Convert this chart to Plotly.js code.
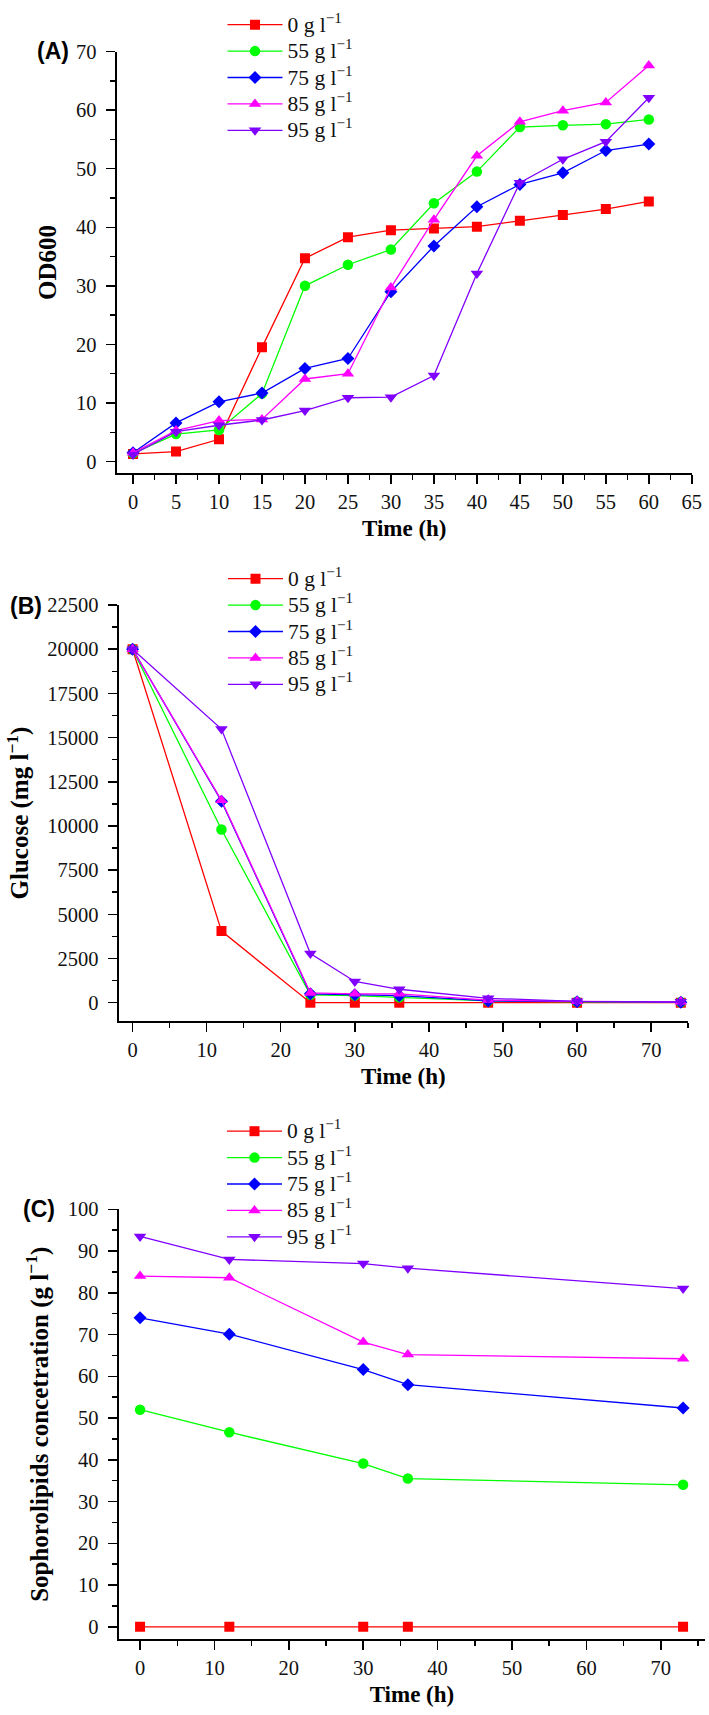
<!DOCTYPE html>
<html>
<head>
<meta charset="utf-8">
<script src="https://cdn.plot.ly/plotly-3.0.1.min.js"></script>
<style>html,body{margin:0;padding:0;background:#fff;}</style>
</head>
<body>
<div id="chart" style="width:709px;height:1715px;"></div>
<script>
// ---------- data ----------
const seriesNames = ['0 g l<sup>−1</sup>', '55 g l<sup>−1</sup>', '75 g l<sup>−1</sup>', '85 g l<sup>−1</sup>', '95 g l<sup>−1</sup>'];

// (A) OD600 vs time
const timeA = [0, 5, 10, 15, 20, 25, 30, 35, 40, 45, 50, 55, 60];
const odA_0  = [1.3, 1.7, 3.8, 19.5, 34.7, 38.3, 39.5, 39.8, 40.1, 41.1, 42.1, 43.1, 44.4];
const odA_55 = [1.4, 4.7, 5.4, 11.6, 30.0, 33.6, 36.2, 44.1, 49.5, 57.1, 57.4, 57.6, 58.4];
const odA_75 = [1.5, 6.6, 10.2, 11.7, 15.9, 17.6, 29.0, 36.8, 43.5, 47.3, 49.3, 53.1, 54.2];
const odA_85 = [1.5, 5.3, 7.0, 7.2, 14.1, 15.0, 29.7, 41.3, 52.2, 58.0, 59.9, 61.3, 67.6];
const odA_95 = [1.2, 5.1, 6.2, 7.1, 8.7, 10.9, 11.0, 14.7, 32.1, 47.6, 51.6, 54.6, 62.1];

// (B) Glucose (mg/l) vs time
const timeB = [0, 12, 24, 30, 36, 48, 60, 74];
const glcB_0  = [20000, 4050, 0, 0, 0, 0, 0, 0];
const glcB_55 = [20000, 9800, 450, 400, 300, 100, 50, 30];
const glcB_75 = [20000, 11400, 500, 450, 400, 100, 50, 30];
const glcB_85 = [20000, 11450, 550, 500, 500, 150, 80, 50];
const glcB_95 = [20000, 15480, 2780, 1200, 760, 250, 80, 50];

// (C) Sophorolipids (g/l) vs time
const timeC = [0, 12, 30, 36, 73];
const slC_0  = [0, 0, 0, 0, 0];
const slC_55 = [52.0, 46.6, 39.1, 35.5, 34.0];
const slC_75 = [74.0, 70.1, 61.6, 58.0, 52.4];
const slC_85 = [84.0, 83.6, 68.2, 65.2, 64.2];
const slC_95 = [93.5, 88.0, 87.0, 85.9, 81.0];

// ---------- styles ----------
const colors  = ['#ff0000', '#00ff00', '#0000ff', '#ff00ff', '#8000ff'];
const symbols = ['square', 'circle', 'diamond', 'triangle-up', 'triangle-down'];
const msizes  = [10, 10.5, 10, 11, 11];
const SERIF = 'Liberation Serif';
const SANS = 'Liberation Sans';

const traces = [];
function addPanel(xs, ysList, xa, ya, leg) {
  ysList.forEach((ys, i) => {
    traces.push({
      type: 'scatter', mode: 'lines+markers',
      x: xs, y: ys, xaxis: xa, yaxis: ya, legend: leg,
      name: '<span style="font-size:21.5px">' + seriesNames[i] + '</span>',
      line: {color: colors[i], width: 1.3},
      marker: {color: colors[i], symbol: symbols[i], size: msizes[i], line: {width: 0}}
    });
  });
}
addPanel(timeA, [odA_0, odA_55, odA_75, odA_85, odA_95], 'x', 'y', 'legend');
addPanel(timeB, [glcB_0, glcB_55, glcB_75, glcB_85, glcB_95], 'x2', 'y2', 'legend2');
addPanel(timeC, [slC_0, slC_55, slC_75, slC_85, slC_95], 'x3', 'y3', 'legend3');

const H = 1715, W = 709;
function px2y(p) { return 1 - p / H; }
function px2x(p) { return p / W; }

function axisBase(extra) {
  return Object.assign({
    showline: true, linecolor: '#000', linewidth: 2,
    showgrid: false, zeroline: false,
    ticks: 'outside', ticklen: 9, tickwidth: 1.5, tickcolor: '#000',
    tickfont: {family: SERIF, size: 20.5, color: '#111'},
    exponentformat: 'none', separatethousands: false, tickformat: 'd',
    automargin: true
  }, extra);
}
function minor(dt) { return {ticks: 'outside', ticklen: 5, tickwidth: 1.5, tickcolor: '#000', dtick: dt}; }
function tfont(sz) { return {family: SERIF, size: sz, color: '#000', weight: 'bold'}; }

function legendBox(xPx, topPx) {
  return {
    x: px2x(xPx), y: px2y(topPx), xanchor: 'left', yanchor: 'top',
    bgcolor: 'rgba(0,0,0,0)', borderwidth: 0,
    font: {family: SERIF, size: 18, color: '#111'},
    itemwidth: 55, tracegroupgap: 0
  };
}

const layout = {
  width: W, height: H,
  font: {family: SERIF, color: '#111'},
  margin: {l: 0, r: 0, t: 0, b: 0, autoexpand: false},
  paper_bgcolor: '#fff', plot_bgcolor: '#fff',
  showlegend: true,
  xaxis: axisBase({domain: [px2x(116.7), px2x(691.8)], anchor: 'y', range: [-1.9, 65], tick0: 0, dtick: 5,
    minor: minor(2.5), title: {text: 'Time (h)', font: tfont(23), standoff: 8}}),
  yaxis: axisBase({domain: [px2y(473.3), px2y(51.5)], anchor: 'x', range: [-2, 70], tick0: 0, dtick: 10,
    ticklabelstandoff: 5,
    minor: minor(5), title: {text: 'OD600', font: tfont(25), standoff: 12}}),
  xaxis2: axisBase({domain: [px2x(118.5), px2x(688.2)], anchor: 'y2', range: [-1.9, 75], tick0: 0, dtick: 10,
    minor: minor(5), title: {text: 'Time (h)', font: tfont(23), standoff: 8}}),
  yaxis2: axisBase({domain: [px2y(1021), px2y(605)], anchor: 'x2', range: [-1035, 22500], tick0: 0, dtick: 2500,
    ticklabelstandoff: 5,
    minor: minor(1250), title: {text: 'Glucose (mg l<sup>−1</sup>)', font: tfont(25), standoff: 11}}),
  xaxis3: axisBase({domain: [px2x(118.5), px2x(705.4)], anchor: 'y3', range: [-2.9, 76], tick0: 0, dtick: 10,
    minor: minor(5), title: {text: 'Time (h)', font: tfont(23), standoff: 8}}),
  yaxis3: axisBase({domain: [px2y(1639.3), px2y(1209.3)], anchor: 'x3', range: [-3, 100], tick0: 0, dtick: 10,
    ticklabelstandoff: 5,
    minor: minor(5), title: {text: 'Sophorolipids concetration (g l<sup>−1</sup>)', font: tfont(25), standoff: 12}}),
  legend: legendBox(222.5, 6.5),
  legend2: legendBox(223, 560.5),
  legend3: legendBox(222, 1113),
  annotations: [
    {text: '(A)', x: px2x(52.5), y: px2y(51.5), xref: 'paper', yref: 'paper', showarrow: false,
     xanchor: 'center', yanchor: 'middle', font: {family: SANS, size: 23, color: '#000', weight: 'bold'}},
    {text: '(B)', x: px2x(25.5), y: px2y(606), xref: 'paper', yref: 'paper', showarrow: false,
     xanchor: 'center', yanchor: 'middle', font: {family: SANS, size: 23, color: '#000', weight: 'bold'}},
    {text: '(C)', x: px2x(38.5), y: px2y(1209), xref: 'paper', yref: 'paper', showarrow: false,
     xanchor: 'center', yanchor: 'middle', font: {family: SANS, size: 23, color: '#000', weight: 'bold'}}
  ]
};

Plotly.newPlot('chart', traces, layout, {displayModeBar: false, staticPlot: true});
</script>
</body>
</html>
